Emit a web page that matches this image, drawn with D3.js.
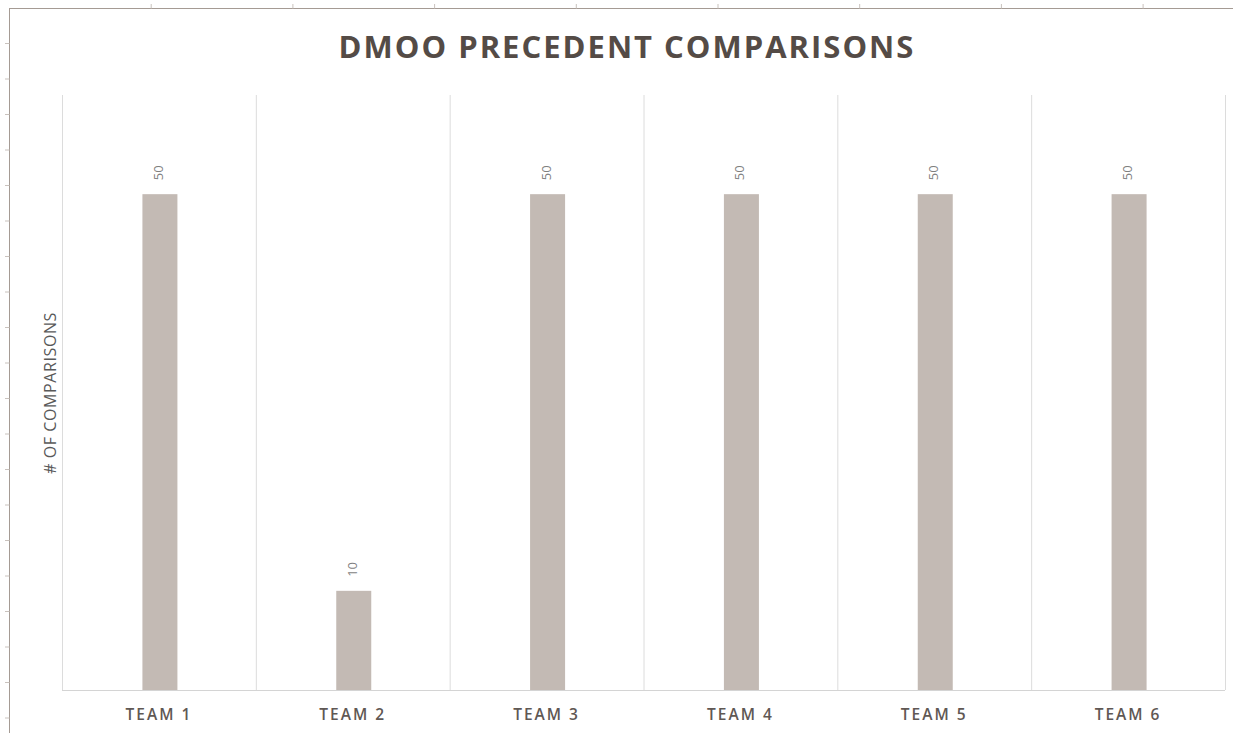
<!DOCTYPE html>
<html>
<head>
<meta charset="utf-8">
<script src="https://cdn.jsdelivr.net/npm/d3@7"></script>
<style>
  body { margin: 0; background: #fff; }
  svg { display: block; font-family: "Open Sans", "Noto Sans", sans-serif; }
</style>
</head>
<body>
<svg id="chart" width="1241" height="733"></svg>
<script>
"use strict";

const teams = ["TEAM 1", "TEAM 2", "TEAM 3", "TEAM 4", "TEAM 5", "TEAM 6"];
const comparisons = [50, 10, 50, 50, 50, 50];
const yMax = 60;

const width = 1241, height = 733;
const margin = { top: 95, right: 16, bottom: 43, left: 62 };

const svg = d3.select("#chart");

// ruler-like frame left over from the sheet screenshot
const frame = svg.append("g").attr("stroke", "#a59b94").attr("fill", "none");
frame.append("line").attr("x1", 9.5).attr("x2", 9.5).attr("y1", 8).attr("y2", height);
frame.append("line").attr("x1", 9.5).attr("x2", 1233).attr("y1", 8.5).attr("y2", 8.5);
frame.selectAll(".ltick")
    .data(d3.range(1, 21))
    .enter().append("line")
    .attr("class", "ltick")
    .attr("x1", 5).attr("x2", 9.5)
    .attr("y1", d => 8 + d * 35.5).attr("y2", d => 8 + d * 35.5)
    .attr("stroke", "#c9c2bd");
frame.selectAll(".ttick")
    .data(d3.range(1, 9))
    .enter().append("line")
    .attr("class", "ttick")
    .attr("x1", d => 9.5 + d * 141.7).attr("x2", d => 9.5 + d * 141.7)
    .attr("y1", 4).attr("y2", 8.5)
    .attr("stroke", "#c9c2bd");

const x = d3.scaleBand()
    .domain(teams)
    .range([margin.left, width - margin.right])
    .paddingInner(0)
    .paddingOuter(0);

const y = d3.scaleLinear()
    .domain([0, yMax])
    .range([height - margin.bottom, margin.top]);

// vertical separators between categories
const bounds = teams.map(t => x(t)).concat([width - margin.right]);
svg.append("g")
    .selectAll("line")
    .data(bounds)
    .enter().append("line")
    .attr("x1", d => d + 0.5).attr("x2", d => d + 0.5)
    .attr("y1", margin.top).attr("y2", height - margin.bottom)
    .attr("stroke", "#dcdcdc");

// baseline
svg.append("line")
    .attr("x1", margin.left).attr("x2", width - margin.right)
    .attr("y1", y(0) + 0.5).attr("y2", y(0) + 0.5)
    .attr("stroke", "#d4d4d4");

const barW = 35;
svg.append("g")
    .selectAll("rect")
    .data(teams)
    .enter().append("rect")
    .attr("x", d => x(d) + x.bandwidth() / 2 - barW / 2 + 1)
    .attr("y", (d, i) => y(comparisons[i]))
    .attr("width", barW)
    .attr("height", (d, i) => y(0) - y(comparisons[i]))
    .attr("fill", "#c3bab4");

// value labels, rotated
svg.append("g")
    .selectAll("text")
    .data(teams)
    .enter().append("text")
    .attr("transform", (d, i) => `translate(${x(d) + x.bandwidth() / 2 + 4},${y(comparisons[i]) - 14}) rotate(-90)`)
    .attr("text-anchor", "start")
    .attr("font-size", 13)
    .attr("fill", "#7f7f7f")
    .text((d, i) => comparisons[i]);

// category axis labels
svg.append("g")
    .selectAll("text")
    .data(teams)
    .enter().append("text")
    .attr("x", d => x(d) + x.bandwidth() / 2)
    .attr("y", 720)
    .attr("text-anchor", "middle")
    .attr("font-size", 15.5)
    .attr("font-weight", 600)
    .attr("letter-spacing", 2)
    .attr("fill", "#5f5854")
    .text(d => d);

// axis title
svg.append("text")
    .attr("transform", "translate(56,393) rotate(-90)")
    .attr("text-anchor", "middle")
    .attr("font-size", 16)
    .attr("letter-spacing", 0.6)
    .attr("fill", "#595959")
    .text("# OF COMPARISONS");

// chart title
svg.append("text")
    .attr("x", 627)
    .attr("y", 58)
    .attr("text-anchor", "middle")
    .attr("font-size", 31)
    .attr("font-weight", "bold")
    .attr("letter-spacing", 2)
    .attr("fill", "#544b46")
    .text("DMOO PRECEDENT COMPARISONS");
</script>
</body>
</html>
